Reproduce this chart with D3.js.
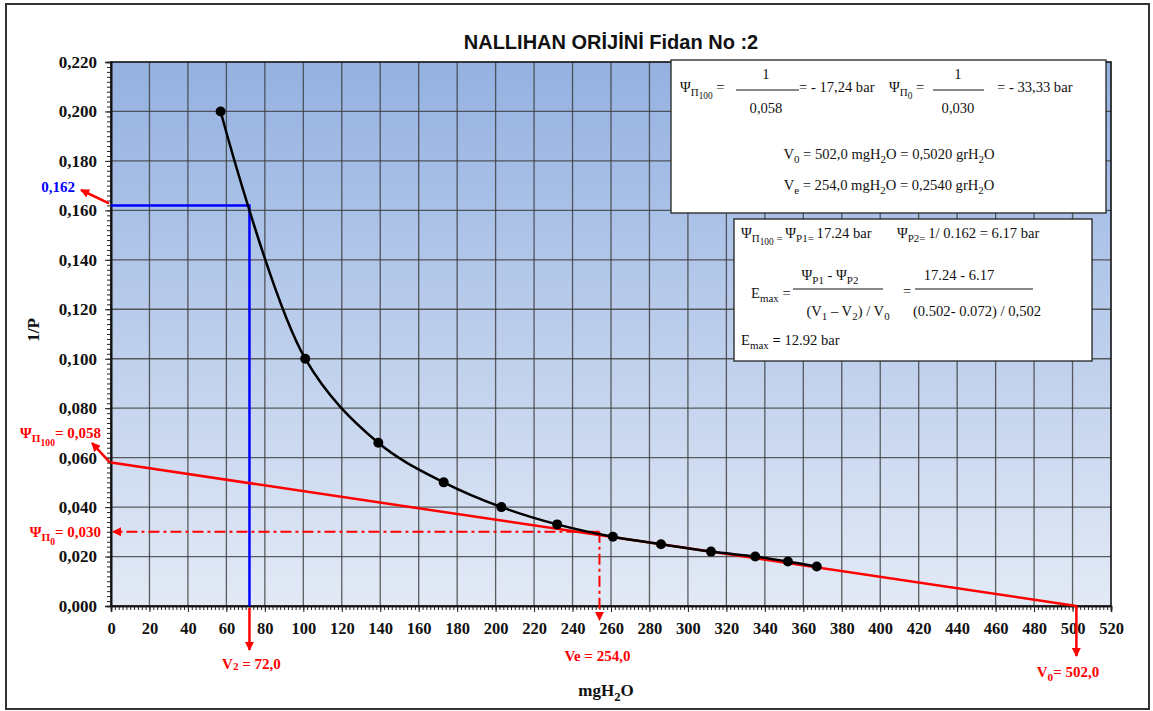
<!DOCTYPE html>
<html>
<head>
<meta charset="utf-8">
<script src="https://cdn.jsdelivr.net/npm/d3@7"></script>
<style>
  html, body { margin: 0; padding: 0; background: #ffffff; }
  svg { display: block; }
</style>
</head>
<body>
<svg id="chart" width="1153" height="711"></svg>
<script>
// Water content (mgH2O) and inverse pressure (1/P) of the measured samples
const waterMg = [57, 101, 139, 173, 203, 232, 261, 286, 312, 335, 352, 367];
const invP    = [0.200, 0.100, 0.066, 0.050, 0.040, 0.033, 0.028, 0.025, 0.022, 0.020, 0.018, 0.016];

// Axis ticks
const xTickValues = [0, 20, 40, 60, 80, 100, 120, 140, 160, 180, 200, 220, 240, 260,
                     280, 300, 320, 340, 360, 380, 400, 420, 440, 460, 480, 500, 520];
const yTickValues = [0.000, 0.020, 0.040, 0.060, 0.080, 0.100, 0.120, 0.140, 0.160,
                     0.180, 0.200, 0.220];

// Pressure-volume analysis values
const psiPi100 = 0.058;   // intercept of the linear part (1/P at V = 0)
const psiPi0   = 0.030;   // 1/P at turgor loss
const invPatV2 = 0.162;   // 1/P read at V2
const V0 = 502.0;
const Ve = 254.0;
const V2 = 72.0;

const svg = d3.select("#chart");
const x = d3.scaleLinear().domain([0, 520]).range([111, 1111]);
const y = d3.scaleLinear().domain([0, 0.22]).range([606, 62]);
const fmt = d3.format(".3f");
const comma = v => fmt(v).replace(".", ",");
const dec1 = v => d3.format(".1f")(v).replace(".", ",");
const BOX = 14.6;

const defs = svg.append("defs");
const grad = defs.append("linearGradient").attr("id", "plotBg")
  .attr("x1", 0).attr("y1", 0).attr("x2", 0).attr("y2", 1);
grad.append("stop").attr("offset", "0%").attr("stop-color", "#94b1e1");
grad.append("stop").attr("offset", "100%").attr("stop-color", "#e3eaf6");

function arrowMarker(id, color) {
  defs.append("marker").attr("id", id)
    .attr("viewBox", "0 0 10 10").attr("refX", 9).attr("refY", 5)
    .attr("markerWidth", 9).attr("markerHeight", 9)
    .attr("markerUnits", "userSpaceOnUse").attr("orient", "auto")
    .append("path").attr("d", "M0,0 L10,5 L0,10 Z").attr("fill", color);
}
arrowMarker("arrowRed", "#ff0000");

// Outer frame
svg.append("rect").attr("x", 6).attr("y", 4).attr("width", 1143).attr("height", 705)
  .attr("fill", "#ffffff").attr("stroke", "#333333").attr("stroke-width", 2);

// Plot background
const [px0, px1] = x.range();
const [py0, py1] = y.range();
svg.append("rect").attr("x", px0).attr("y", py1)
  .attr("width", px1 - px0).attr("height", py0 - py1)
  .attr("fill", "url(#plotBg)");

// Grid
const grid = svg.append("g").attr("stroke", "#3a3a3a").attr("stroke-opacity", 0.8)
  .attr("stroke-width", 1.3);
grid.selectAll("line.gx").data(xTickValues.slice(1, -1)).join("line")
  .attr("x1", d => x(d)).attr("x2", d => x(d)).attr("y1", py0).attr("y2", py1);
grid.selectAll("line.gy").data(yTickValues.slice(1, -1)).join("line")
  .attr("x1", px0).attr("x2", px1).attr("y1", d => y(d)).attr("y2", d => y(d));

// Plot border
svg.append("rect").attr("x", px0).attr("y", py1)
  .attr("width", px1 - px0).attr("height", py0 - py1)
  .attr("fill", "none").attr("stroke", "#111111").attr("stroke-width", 1.6);

// Axes with minor ticks
const yAxisMinor = d3.axisLeft(y).tickValues(d3.range(0, 0.2201, 0.002)).tickSize(4).tickFormat("");
const yAxisMajor = d3.axisLeft(y).tickValues(yTickValues).tickSize(6).tickFormat(comma).tickPadding(8);
const xAxisMinor = d3.axisBottom(x).tickValues(d3.range(0, 520.1, 2)).tickSize(4).tickFormat("");
const xAxisMajor = d3.axisBottom(x).tickValues(xTickValues).tickSize(6).tickFormat(d3.format("d")).tickPadding(10);

function styleAxis(g) {
  g.select(".domain").attr("stroke", "#111").attr("stroke-width", 1.6);
  g.selectAll(".tick line").attr("stroke", "#222").attr("stroke-width", 1);
  g.selectAll("text").attr("font-family", "Liberation Serif, Times New Roman, serif")
    .attr("font-weight", "bold").attr("font-size", 17).attr("fill", "#111");
}
svg.append("g").attr("transform", `translate(${px0},0)`).call(yAxisMinor).call(styleAxis);
svg.append("g").attr("transform", `translate(${px0},0)`).call(yAxisMajor).call(styleAxis);
svg.append("g").attr("transform", `translate(0,${py0})`).call(xAxisMinor).call(styleAxis);
svg.append("g").attr("transform", `translate(0,${py0})`).call(xAxisMajor).call(styleAxis)
  .selectAll("text").attr("font-size", 16.5);

// Rich text helper: parts = [[text, level]], level 0 = normal, 1 = subscript, 2 = sub-subscript
function rich(parent, xx, yy, parts, o) {
  const size = o.size || BOX;
  const t = parent.append("text").attr("x", xx).attr("y", yy)
    .attr("font-family", "Liberation Serif, Times New Roman, serif")
    .attr("font-size", size)
    .attr("font-weight", o.bold ? "bold" : "normal")
    .attr("fill", o.color || "#111")
    .attr("text-anchor", o.anchor || "start");
  const scale = [1, 0.75, 0.64];
  const shift = [0, 0.28, 0.5];
  let prev = 0;
  parts.forEach(([txt, lv]) => {
    t.append("tspan")
      .attr("font-size", size * scale[lv])
      .attr("dy", ((shift[lv] - shift[prev]) * size).toFixed(2))
      .text(txt);
    prev = lv;
  });
  return t;
}

// Blue reading lines at V2
svg.append("path")
  .attr("d", `M${x(0)},${y(invPatV2)} H${x(V2)} V${y(0)}`)
  .attr("fill", "none").attr("stroke", "#0000ff").attr("stroke-width", 2.5);

// Linear regression line of the elastic part
svg.append("line")
  .attr("x1", x(0)).attr("y1", y(psiPi100)).attr("x2", x(V0)).attr("y2", y(0))
  .attr("stroke", "#ff0000").attr("stroke-width", 2.5);

// Turgor loss point, dash-dot lines
svg.append("path")
  .attr("d", `M${x(Ve)},${y(psiPi0)} H${x(0) + 2}`)
  .attr("fill", "none").attr("stroke", "#ff0000").attr("stroke-width", 2)
  .attr("stroke-dasharray", "11,4,3,4").attr("marker-end", "url(#arrowRed)");
svg.append("path")
  .attr("d", `M${x(Ve)},${y(psiPi0)} V${y(0) + 14}`)
  .attr("fill", "none").attr("stroke", "#ff0000").attr("stroke-width", 2)
  .attr("stroke-dasharray", "11,4,3,4").attr("marker-end", "url(#arrowRed)");

// Curve through measurements
const pts = waterMg.map((v, i) => [v, invP[i]]);
svg.append("path").datum(pts)
  .attr("d", d3.line().x(d => x(d[0])).y(d => y(d[1])).curve(d3.curveCatmullRom.alpha(0.5)))
  .attr("fill", "none").attr("stroke", "#000").attr("stroke-width", 2.5);
svg.selectAll("circle.pt").data(pts).join("circle")
  .attr("cx", d => x(d[0])).attr("cy", d => y(d[1])).attr("r", 5).attr("fill", "#000");

// Arrows below the x axis
svg.append("line").attr("x1", x(V2)).attr("x2", x(V2)).attr("y1", y(0) + 2).attr("y2", 650)
  .attr("stroke", "#ff0000").attr("stroke-width", 2.5).attr("marker-end", "url(#arrowRed)");
svg.append("line").attr("x1", x(V0)).attr("x2", x(V0)).attr("y1", y(0)).attr("y2", 656)
  .attr("stroke", "#ff0000").attr("stroke-width", 2.5).attr("marker-end", "url(#arrowRed)");

// Arrows to the left labels
svg.append("line").attr("x1", x(0) - 2).attr("y1", y(invPatV2) - 2).attr("x2", 81).attr("y2", 190)
  .attr("stroke", "#ff0000").attr("stroke-width", 2.5).attr("marker-end", "url(#arrowRed)");
svg.append("line").attr("x1", x(0) - 1).attr("y1", y(psiPi100)).attr("x2", 92).attr("y2", 443)
  .attr("stroke", "#ff0000").attr("stroke-width", 2.5).attr("marker-end", "url(#arrowRed)");

// Left labels
rich(svg, 75, 192, [[comma(invPatV2), 0]], { size: 15, bold: true, color: "#0000ff", anchor: "end" });
rich(svg, 101, 438, [["Ψ", 0], ["Π", 1], ["100", 2], ["= " + comma(psiPi100), 0]],
  { size: 15, bold: true, color: "#ff0000", anchor: "end" });
rich(svg, 101, 537, [["Ψ", 0], ["Π", 1], ["0", 2], ["= " + comma(psiPi0), 0]],
  { size: 15, bold: true, color: "#ff0000", anchor: "end" });

// Bottom labels
const v2Label = rich(svg, x(V2) + 2, 669, [["V", 0], ["2", 1], [" = " + dec1(V2), 0]],
  { size: 15, bold: true, color: "#ff0000", anchor: "middle" });
v2Label.selectAll("tspan").filter((d, i) => i === 1).attr("dy", 1);
v2Label.selectAll("tspan").filter((d, i) => i === 2).attr("dy", -1);
rich(svg, x(Ve) - 2, 661, [["Ve = " + dec1(Ve), 0]], { size: 15, bold: true, color: "#ff0000", anchor: "middle" });
rich(svg, 1068, 677, [["V", 0], ["0", 1], ["= " + dec1(V0), 0]], { size: 15, bold: true, color: "#ff0000", anchor: "middle" });

// Axis titles
rich(svg, 606, 696, [["mgH", 0], ["2", 1], ["O", 0]], { size: 17, bold: true, anchor: "middle" });
svg.append("text").attr("transform", "translate(39,330) rotate(-90)")
  .attr("text-anchor", "middle").attr("font-family", "Liberation Serif, Times New Roman, serif")
  .attr("font-weight", "bold").attr("font-size", 17).attr("fill", "#111").text("1/P");

// Title
svg.append("text").attr("x", 611).attr("y", 49).attr("text-anchor", "middle")
  .attr("font-family", "Liberation Sans, Arial, sans-serif").attr("font-weight", "bold")
  .attr("font-size", 20).attr("fill", "#111").text("NALLIHAN ORİJİNİ Fidan No :2");

// Calculation box 1
const b1 = svg.append("g");
b1.append("rect").attr("x", 671).attr("y", 60).attr("width", 435).attr("height", 153)
  .attr("fill", "#fff").attr("stroke", "#222").attr("stroke-width", 1.3);
rich(b1, 680, 92, [["Ψ", 0], ["Π", 1], ["100", 2], [" =", 0]], {});
rich(b1, 766, 79, [["1", 0]], { anchor: "middle" });
b1.append("line").attr("x1", 736).attr("x2", 799).attr("y1", 90).attr("y2", 90).attr("stroke", "#111").attr("stroke-width", 1);
rich(b1, 766, 113, [[comma(psiPi100), 0]], { anchor: "middle" });
rich(b1, 799, 92, [["= - " + (1 / psiPi100).toFixed(2).replace(".", ",") + " bar", 0]], {});
rich(b1, 889, 92, [["Ψ", 0], ["Π", 1], ["0", 2], [" =", 0]], {});
rich(b1, 958, 79, [["1", 0]], { anchor: "middle" });
b1.append("line").attr("x1", 933).attr("x2", 984).attr("y1", 90).attr("y2", 90).attr("stroke", "#111").attr("stroke-width", 1);
rich(b1, 958, 113, [[comma(psiPi0), 0]], { anchor: "middle" });
rich(b1, 997, 92, [["= - " + (1 / psiPi0).toFixed(2).replace(".", ",") + " bar", 0]], {});
rich(b1, 889, 159, [["V", 0], ["0", 1], [" = " + dec1(V0) + " mgH", 0], ["2", 1], ["O = 0,5020 grH", 0], ["2", 1], ["O", 0]],
  { anchor: "middle" });
rich(b1, 889, 190, [["V", 0], ["e", 1], [" = " + dec1(Ve) + " mgH", 0], ["2", 1], ["O = 0,2540 grH", 0], ["2", 1], ["O", 0]],
  { anchor: "middle" });

// Calculation box 2
const b2 = svg.append("g");
b2.append("rect").attr("x", 734).attr("y", 219).attr("width", 358).attr("height", 142)
  .attr("fill", "#fff").attr("stroke", "#222").attr("stroke-width", 1.3);
rich(b2, 741, 238, [["Ψ", 0], ["Π", 1], ["100", 2], [" = ", 1], ["Ψ", 0], ["P1= ", 1], [" 17.24 bar", 0]], {});
rich(b2, 897, 238, [["Ψ", 0], ["P2= ", 1], ["  1/  0.162 = 6.17 bar", 0]], {});
rich(b2, 751, 298, [["E", 0], ["max", 1], [" =", 0]], {});
rich(b2, 830, 280, [["Ψ", 0], ["P1", 1], [" - Ψ", 0], ["P2", 1]], { anchor: "middle" });
b2.append("line").attr("x1", 793).attr("x2", 883).attr("y1", 289).attr("y2", 289).attr("stroke", "#111").attr("stroke-width", 1);
rich(b2, 848, 316, [["(V", 0], ["1", 1], [" – V", 0], ["2", 1], [") / V", 0], ["0", 1]], { anchor: "middle" });
rich(b2, 903, 296, [["=", 0]], {});
rich(b2, 959, 280, [["17.24  - 6.17", 0]], { anchor: "middle" });
b2.append("line").attr("x1", 915).attr("x2", 1033).attr("y1", 289).attr("y2", 289).attr("stroke", "#111").attr("stroke-width", 1);
rich(b2, 977, 316, [["(0.502- 0.072) / 0,502", 0]], { anchor: "middle" });
const emax = rich(b2, 741, 345, [["E", 0], ["max", 1], [" = ", 0], ["12.92  bar", 0]], {});
emax.selectAll("tspan").filter((d, i) => i === 2).attr("font-weight", "bold");
</script>
</body>
</html>
